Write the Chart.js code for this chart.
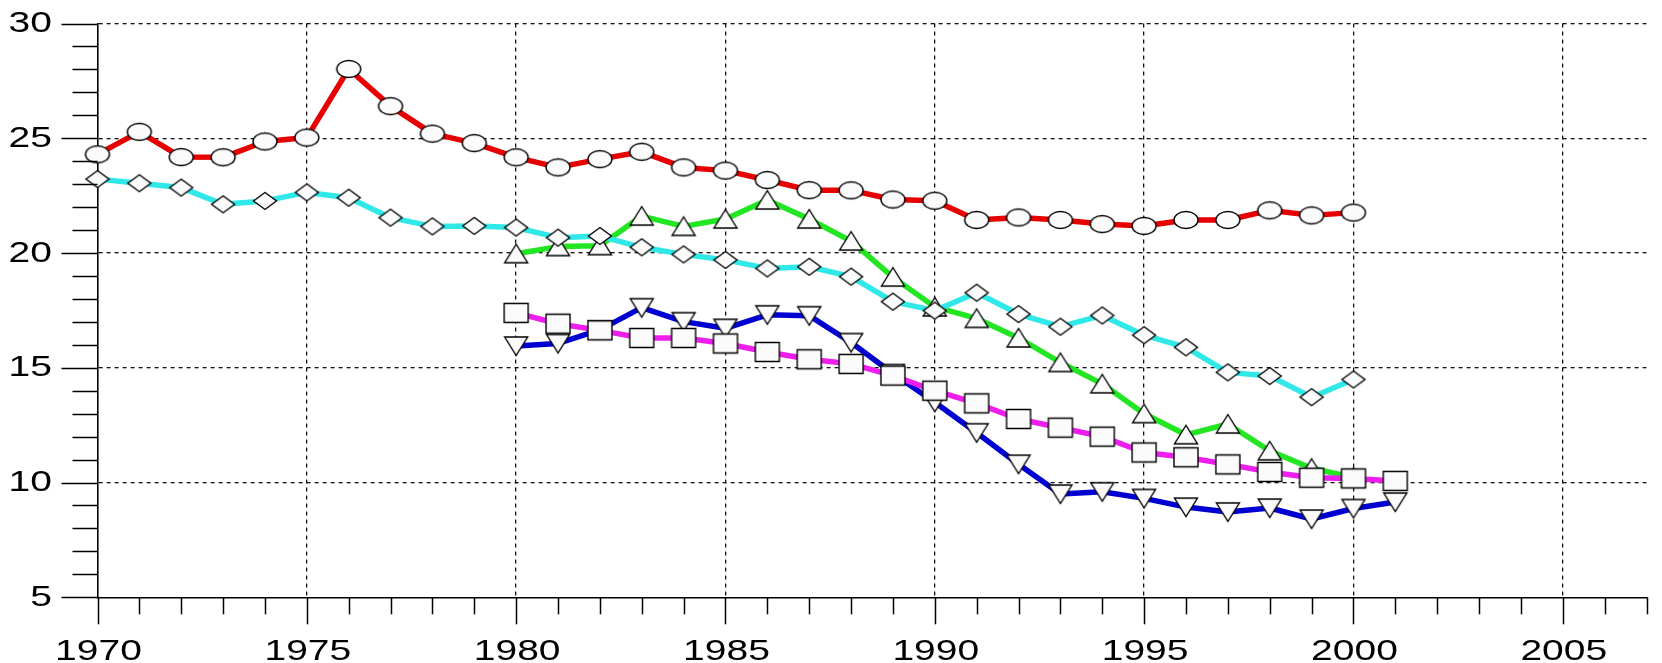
<!DOCTYPE html>
<html>
<head>
<meta charset="utf-8">
<script src="https://cdn.jsdelivr.net/npm/chart.js@4.4.1/dist/chart.umd.min.js"></script>
<style>
html,body{margin:0;padding:0;background:#fff;}
canvas{display:block;}
</style>
</head>
<body>
<canvas id="c" width="1662" height="663"></canvas>
<script>
// ---- data ----
const years = [1970,1971,1972,1973,1974,1975,1976,1977,1978,1979,
               1980,1981,1982,1983,1984,1985,1986,1987,1988,1989,
               1990,1991,1992,1993,1994,1995,1996,1997,1998,1999,
               2000,2001];

const redValues = [24.30,25.28,24.18,24.17,24.86,25.03,28.02,26.40,25.20,24.79,
                   24.17,23.73,24.09,24.41,23.73,23.59,23.18,22.74,22.73,22.33,
                   22.28,21.44,21.55,21.44,21.26,21.18,21.44,21.44,21.86,21.64,
                   21.76,null];

const cyanValues = [23.22,23.04,22.85,22.12,22.27,22.64,22.41,21.54,21.16,21.18,
                    21.11,20.67,20.74,20.25,19.94,19.70,19.33,19.40,18.97,17.88,
                    17.49,18.27,17.34,16.79,17.28,16.42,15.89,14.80,14.64,13.72,
                    14.49,null];

const greenValues = [null,null,null,null,null,null,null,null,null,null,
                     19.97,20.28,20.32,21.61,21.16,21.48,22.31,21.48,20.52,18.95,
                     17.65,17.15,16.30,15.23,14.30,13.00,12.08,12.55,11.38,10.62,
                     10.22,null];

const blueValues = [null,null,null,null,null,null,null,null,null,null,
                    15.95,16.06,16.65,17.62,17.01,16.72,17.31,17.27,16.10,14.75,
                    13.50,12.17,10.80,9.50,9.60,9.31,8.93,8.72,8.89,8.41,
                    8.87,9.15];

const magentaValues = [null,null,null,null,null,null,null,null,null,null,
                       17.39,16.92,16.63,16.30,16.30,16.06,15.69,15.37,15.17,14.66,
                       14.00,13.45,12.77,12.39,12.00,11.31,11.10,10.79,10.46,10.21,
                       10.18,10.07];

const xTickLabels = ['1970','1975','1980','1985','1990','1995','2000','2005'];
const yTickLabels = ['5','10','15','20','25','30'];
const X_MIN = 1970, X_MAX = 2007, Y_MIN = 5, Y_MAX = 30;

// ---- markers ----
function makeMarker(kind) {
  const w = 28, h = 24;
  const c = document.createElement('canvas');
  c.width = w; c.height = h;
  const g = c.getContext('2d');
  g.fillStyle = '#fbfbfb';
  g.strokeStyle = '#000';
  g.lineWidth = 1.4;
  g.lineJoin = 'miter';
  const cx = w / 2, cy = h / 2;
  g.beginPath();
  if (kind === 'ellipse') {
    g.ellipse(cx, cy, 12, 8.5, 0, 0, Math.PI * 2);
  } else if (kind === 'diamond') {
    g.moveTo(cx, cy - 8.5); g.lineTo(cx + 11.5, cy); g.lineTo(cx, cy + 8.5); g.lineTo(cx - 11.5, cy); g.closePath();
  } else if (kind === 'up') {
    g.moveTo(cx, cy - 9.5); g.lineTo(cx + 11.5, cy + 9); g.lineTo(cx - 11.5, cy + 9); g.closePath();
  } else if (kind === 'down') {
    g.moveTo(cx - 11.5, cy - 9); g.lineTo(cx + 11.5, cy - 9); g.lineTo(cx, cy + 9.5); g.closePath();
  } else if (kind === 'square') {
    g.rect(cx - 12, cy - 9.5, 24, 19);
  }
  g.fill();
  g.stroke();
  return c;
}

function toPoints(vals) {
  return years.map((yr, i) => ({x: yr, y: vals[i]}));
}

function ds(label, vals, color, marker) {
  return {
    label: label,
    data: toPoints(vals),
    borderColor: color,
    backgroundColor: color,
    borderWidth: 5.5,
    borderJoinStyle: 'round',
    borderCapStyle: 'round',
    tension: 0,
    pointStyle: makeMarker(marker),
    pointRadius: 10,
    pointHoverRadius: 10,
    clip: false,
    spanGaps: false
  };
}

// ---- axis decoration (tick marks + stretched labels) ----
const axisDecor = {
  id: 'axisDecor',
  afterDraw(chart) {
    const {ctx, chartArea, scales} = chart;
    const xs = scales.x, ys = scales.y;
    ctx.save();
    ctx.strokeStyle = '#000';
    ctx.lineWidth = 1.5;
    for (let v = Y_MIN; v <= Y_MAX; v++) {
      const py = Math.round(ys.getPixelForValue(v)) + 0.5;
      const len = (v % 5 === 0) ? 36 : 25;
      ctx.beginPath();
      ctx.moveTo(chartArea.left - len, py);
      ctx.lineTo(chartArea.left, py);
      ctx.stroke();
    }
    for (let v = X_MIN; v <= X_MAX; v++) {
      const px = Math.round(xs.getPixelForValue(v)) + 0.5;
      const len = (v % 5 === 0) ? 27 : 17;
      ctx.beginPath();
      ctx.moveTo(px, chartArea.bottom);
      ctx.lineTo(px, chartArea.bottom + len);
      ctx.stroke();
    }
    ctx.fillStyle = '#000';
    ctx.font = '30px "Liberation Sans", Arial, sans-serif';
    ctx.textBaseline = 'alphabetic';
    const sx = 1.3;
    yTickLabels.forEach(lbl => {
      const py = ys.getPixelForValue(Number(lbl));
      ctx.save();
      ctx.translate(52, py + 8.5);
      ctx.scale(sx, 1);
      ctx.textAlign = 'right';
      ctx.fillText(lbl, 0, 0);
      ctx.restore();
    });
    xTickLabels.forEach(lbl => {
      const px = xs.getPixelForValue(Number(lbl));
      ctx.save();
      ctx.translate(px + 1, chartArea.bottom + 62.5);
      ctx.scale(sx, 1);
      ctx.textAlign = 'center';
      ctx.fillText(lbl, 0, 0);
      ctx.restore();
    });
    ctx.restore();
  }
};

const gridColor = (ctx, skipVal) => {
  const t = ctx.tick;
  if (!t) return 'transparent';
  const v = t.value;
  if (v % 5 !== 0 || v === skipVal) return 'transparent';
  return '#111';
};

new Chart(document.getElementById('c'), {
  type: 'line',
  data: {
    datasets: [
      ds('magenta', magentaValues, '#ee1eee', 'square'),
      ds('cyan', cyanValues, '#30e8e8', 'diamond'),
      ds('green', greenValues, '#22e622', 'up'),
      ds('blue', blueValues, '#0000d0', 'down'),
      ds('red', redValues, '#e60000', 'ellipse')
    ]
  },
  options: {
    responsive: false,
    devicePixelRatio: 1,
    animation: false,
    events: [],
    layout: {padding: {left: 97.5, top: 23.5, right: 6.3, bottom: 65.7}},
    plugins: {legend: {display: false}, tooltip: {enabled: false}, title: {display: false}},
    scales: {
      x: {
        type: 'linear',
        min: X_MIN, max: X_MAX,
        ticks: {display: false, stepSize: 5},
        grid: {drawTicks: false, lineWidth: 1.3, color: c => gridColor(c, X_MIN)},
        border: {display: true, color: '#000', width: 1.6, dash: [4, 4]}
      },
      y: {
        type: 'linear',
        min: Y_MIN, max: Y_MAX,
        ticks: {display: false, stepSize: 5},
        grid: {drawTicks: false, lineWidth: 1.3, color: c => gridColor(c, Y_MIN)},
        border: {display: true, color: '#000', width: 1.6, dash: [4, 4]}
      }
    }
  },
  plugins: [axisDecor]
});
</script>
</body>
</html>
